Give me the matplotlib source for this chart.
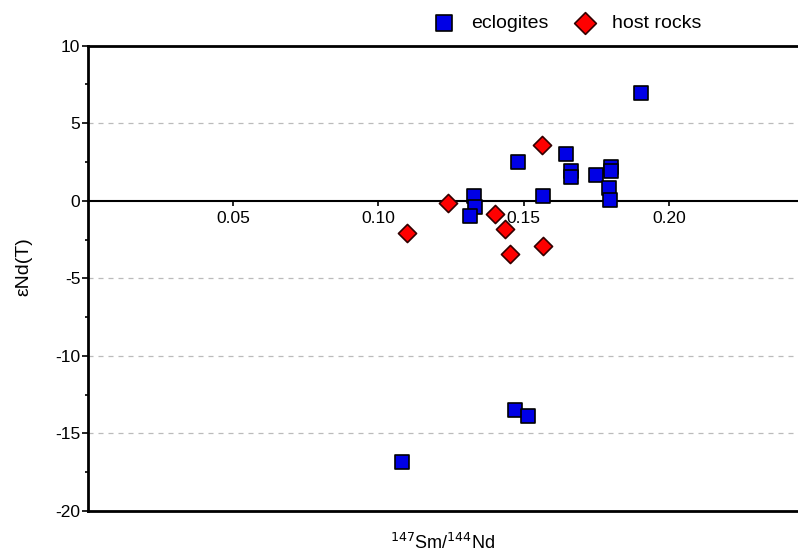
import numpy as np
import matplotlib
matplotlib.use('Agg')
import matplotlib.pyplot as plt
from matplotlib.ticker import MultipleLocator

plt.rcParams['font.family'] = ['Liberation Sans', 'DejaVu Sans']
plt.rcParams['axes.unicode_minus'] = False

# eclogites
ecl_x = [0.1903, 0.1482, 0.1645, 0.1663, 0.1665, 0.1748, 0.1800, 0.1800,
         0.1793, 0.1798, 0.1568, 0.1328, 0.1333, 0.1316, 0.1470, 0.1516, 0.1081]
ecl_y = [6.93, 2.48, 3.01, 1.94, 1.51, 1.66, 2.19, 1.94,
         0.84, 0.05, 0.30, 0.32, -0.43, -0.99, -13.5, -13.9, -16.84]

# host rocks
host_x = [0.1562, 0.1239, 0.1401, 0.1436, 0.1453, 0.1568, 0.1098]
host_y = [3.59, -0.13, -0.86, -1.85, -3.46, -2.90, -2.10]

xticks = [0.05, 0.10, 0.15, 0.20]
yticks = [-20, -15, -10, -5, 0, 5, 10]

fig = plt.figure(figsize=(7.98, 5.56), dpi=100)
ax = fig.add_axes([88/798, 1 - 511/556, 1 - 88/798, (511 - 45.7)/556])

ax.set_xlim(0, 0.2445)
ax.set_ylim(-20, 10)

for g in [-15, -10, -5, 5]:
    ax.axhline(g, color='#bbbbbb', lw=0.9, ls=(0, (4, 4)), zorder=0)
ax.axhline(-20, color='black', lw=2, zorder=1, clip_on=False)

ax.spines['right'].set_visible(False)
ax.spines['top'].set_linewidth(2)
ax.spines['left'].set_linewidth(2)
ax.spines['bottom'].set_position(('data', 0))
ax.spines['bottom'].set_linewidth(1.5)

ax.set_xticks(xticks)
ax.set_xticklabels(['%.2f' % v for v in xticks])
ax.set_yticks(yticks)
ax.yaxis.set_minor_locator(MultipleLocator(2.5))
ax.tick_params(axis='x', direction='out', length=3.5, width=1.2, labelsize=12.5, pad=4)
ax.tick_params(axis='y', which='major', direction='out', length=4, width=1.2, labelsize=12.5, pad=1.5)
ax.tick_params(axis='y', which='minor', direction='out', length=2.5, width=1.2)

ax.scatter(ecl_x, ecl_y, marker='s', s=95, c='#0000e6', edgecolors='black',
           linewidths=1.2, zorder=3, label='eclogites')
ax.scatter(host_x, host_y, marker='D', s=85, c='#ff0000', edgecolors='#330000',
           linewidths=1.2, zorder=3, label='host rocks')

fig.text(24/798, 1 - 267/556, 'εNd(T)', rotation=90, ha='center', va='center', fontsize=14)
fig.text(443/798, 1 - 543/556, r'$^{147}$Sm/$^{144}$Nd', ha='center', va='center', fontsize=13)

fig.legend(loc='center', bbox_to_anchor=(563/798, 1 - 23/556), ncol=2, frameon=False,
           fontsize=14, handletextpad=0.4, columnspacing=0.9, borderaxespad=0,
           markerscale=1.2)

fig.savefig('out.png', dpi=100)
